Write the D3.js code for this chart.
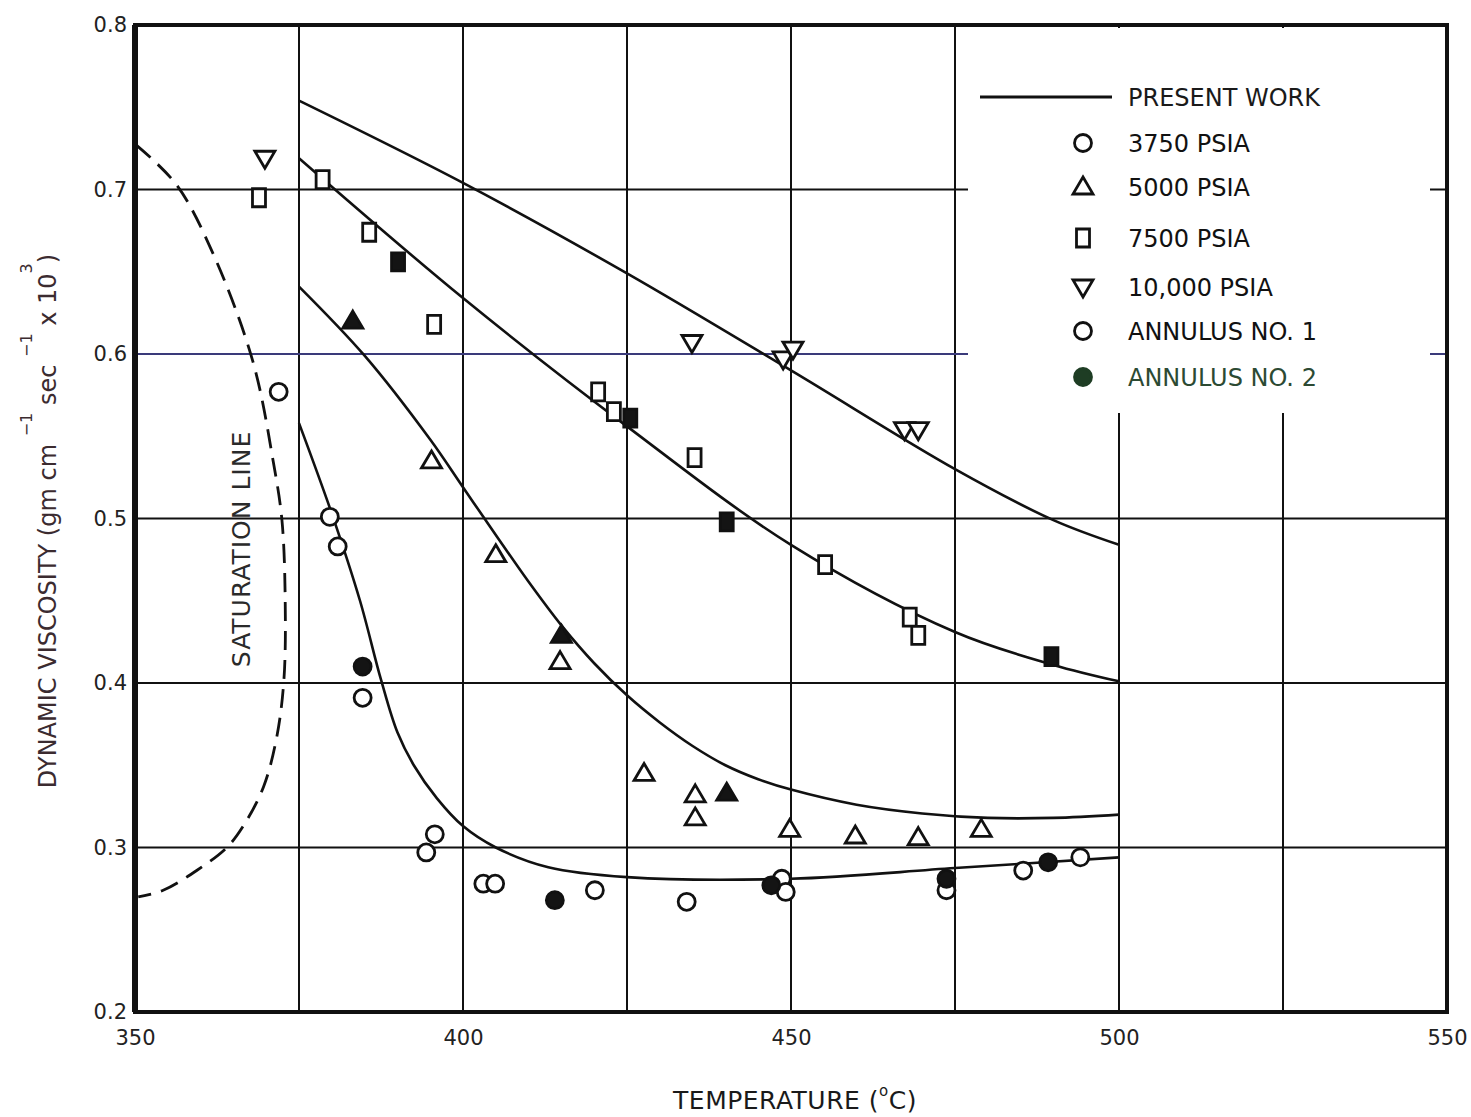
<!DOCTYPE html>
<html>
<head>
<meta charset="utf-8">
<script src="https://cdn.jsdelivr.net/npm/d3@7"></script>
<style>
  body { margin: 0; background: #fff; }
  text { font-family: "DejaVu Sans", sans-serif; }
</style>
</head>
<body>
<div id="chart"></div>
<script>
// viscosity of water vs temperature

var tempTicks = [350, 400, 450, 500, 550];
var tempGrid = [375, 400, 425, 450, 475, 500, 525];
var viscTicks = [0.2, 0.3, 0.4, 0.5, 0.6, 0.7, 0.8];
var viscGrid = [0.3, 0.4, 0.5, 0.6, 0.7];

// present work curves [temp, visc]
var curve10000 = [[375, 0.754], [400, 0.704], [425, 0.649], [450, 0.590], [475, 0.530], [490, 0.499], [500, 0.484]];
var curve7500 = [[375, 0.719], [400, 0.634], [425, 0.556], [450, 0.484], [475, 0.431], [490, 0.411], [500, 0.401]];
var curve5000 = [[375, 0.641], [385, 0.599], [395, 0.548], [400, 0.519], [405, 0.490], [410, 0.4615], [415, 0.435],
                 [420, 0.412], [425, 0.3925], [430, 0.376], [435, 0.3617], [440, 0.350], [445, 0.3415], [450, 0.3352],
                 [460, 0.326], [470, 0.3207], [480, 0.318], [490, 0.318], [500, 0.320]];
var curve3750 = [[375, 0.558], [380, 0.503], [384.3, 0.450], [387.5, 0.402], [390, 0.370], [392.5, 0.350], [396, 0.330],
                 [400, 0.313], [405, 0.300], [413, 0.288], [425, 0.282], [450, 0.281], [475, 0.2875], [500, 0.294]];

// saturation line, dashed
var saturation = [[350.2, 0.727], [356.3, 0.703], [361.9, 0.661], [368, 0.595], [371.1, 0.534], [372.4, 0.499],
                  [372.9, 0.449], [372.7, 0.402], [371.6, 0.367], [369.6, 0.337], [366.5, 0.313], [364, 0.300],
                  [359.4, 0.286], [354.3, 0.274], [350.5, 0.270]];

// measured points
var circles3750 = [[371.9, 0.577], [379.7, 0.501], [380.9, 0.483], [384.7, 0.391], [394.4, 0.297], [395.7, 0.308],
                   [403.1, 0.278], [404.9, 0.278], [420.1, 0.274], [434.1, 0.267], [448.6, 0.281], [449.2, 0.273],
                   [473.7, 0.274], [485.4, 0.286], [494.1, 0.294]];
var filledCircles = [[384.7, 0.410], [414.0, 0.268], [447.0, 0.277], [473.7, 0.281], [489.2, 0.291]];
var triangles5000 = [[395.2, 0.535], [405.0, 0.478], [414.8, 0.413], [427.6, 0.345], [435.4, 0.332], [435.4, 0.318],
                     [449.8, 0.311], [459.8, 0.307], [469.4, 0.306], [479.0, 0.311]];
var filledTriangles = [[383.2, 0.620], [415.0, 0.429], [440.2, 0.333]];
var squares7500 = [[368.9, 0.695], [378.6, 0.706], [385.7, 0.674], [395.6, 0.618], [420.6, 0.577], [423.0, 0.565],
                   [435.3, 0.537], [455.2, 0.472], [468.1, 0.440], [469.4, 0.429]];
var filledSquares = [[390.1, 0.656], [425.5, 0.561], [440.2, 0.498], [489.7, 0.416]];
var downTriangles10000 = [[369.8, 0.719], [434.9, 0.607], [448.8, 0.597], [450.3, 0.603], [467.3, 0.554], [469.4, 0.554]];

var legendItems = [
  { label: "3750 PSIA", shape: "circle", fill: "none", color: "#111" },
  { label: "5000 PSIA", shape: "tri", fill: "none", color: "#111" },
  { label: "7500 PSIA", shape: "square", fill: "none", color: "#111" },
  { label: "10,000 PSIA", shape: "down", fill: "none", color: "#111" },
  { label: "ANNULUS NO. 1", shape: "circle", fill: "none", color: "#111" },
  { label: "ANNULUS NO. 2", shape: "circle", fill: "#1e3d24", color: "#2c4a33" }
];

var width = 1471, height = 1117;

var x = d3.scaleLinear().domain([350, 550]).range([135, 1447]);
var y = d3.scaleLinear().domain([0.2, 0.8]).range([1012, 25]);

var svg = d3.select("#chart").append("svg")
  .attr("width", width)
  .attr("height", height);

// grid
svg.selectAll("line.vgrid").data(tempGrid).enter().append("line")
  .attr("class", "vgrid")
  .attr("x1", function(d) { return x(d); }).attr("x2", function(d) { return x(d); })
  .attr("y1", y(0.8)).attr("y2", y(0.2))
  .attr("stroke", "#111").attr("stroke-width", 2);

svg.selectAll("line.hgrid").data(viscGrid).enter().append("line")
  .attr("class", "hgrid")
  .attr("x1", x(350)).attr("x2", x(550))
  .attr("y1", function(d) { return y(d); }).attr("y2", function(d) { return y(d); })
  .attr("stroke", function(d) { return d === 0.6 ? "#3a3a7a" : "#111"; })
  .attr("stroke-width", 2);

// legend area blanks out the grid
svg.append("rect")
  .attr("x", 968).attr("y", y(0.8) + 3)
  .attr("width", 1430 - 968).attr("height", 410 - y(0.8))
  .attr("fill", "#fff");

// axes
var yAxis = d3.axisLeft(y).tickValues(viscTicks).tickSize(0).tickPadding(8)
  .tickFormat(d3.format(".1f"));
var xAxis = d3.axisBottom(x).tickValues(tempTicks).tickSize(0).tickPadding(18)
  .tickFormat(d3.format("d"));

var gy = svg.append("g").attr("transform", "translate(" + x(350) + ",0)").call(yAxis);
var gx = svg.append("g").attr("transform", "translate(0," + y(0.2) + ")").call(xAxis);
[gx, gy].forEach(function(g) {
  g.select(".domain").remove();
  g.selectAll("text").attr("font-size", 21).attr("fill", "#222")
    .attr("font-family", "DejaVu Sans, sans-serif");
});

// frame
svg.append("rect")
  .attr("x", x(350)).attr("y", y(0.8))
  .attr("width", x(550) - x(350)).attr("height", y(0.2) - y(0.8))
  .attr("fill", "none").attr("stroke", "#111").attr("stroke-width", 4);
svg.append("line")
  .attr("x1", x(350)).attr("x2", x(350)).attr("y1", y(0.8)).attr("y2", y(0.2))
  .attr("stroke", "#111").attr("stroke-width", 6);

// curves
var line = d3.line()
  .x(function(d) { return x(d[0]); })
  .y(function(d) { return y(d[1]); })
  .curve(d3.curveCatmullRom.alpha(0.5));

[curve10000, curve7500, curve5000, curve3750].forEach(function(c) {
  svg.append("path").datum(c)
    .attr("d", line)
    .attr("fill", "none").attr("stroke", "#111").attr("stroke-width", 2.6);
});

svg.append("path").datum(saturation)
  .attr("d", line)
  .attr("fill", "none").attr("stroke", "#111").attr("stroke-width", 2.8)
  .attr("stroke-dasharray", "19,10");

svg.append("text")
  .attr("transform", "translate(250,549) rotate(-90)")
  .attr("text-anchor", "middle")
  .attr("font-size", 25).attr("letter-spacing", 1).attr("fill", "#2a2a2a")
  .text("SATURATION LINE");

// markers
function shapePath(shape) {
  if (shape === "tri") return "M0,-10L10,7L-10,7Z";
  if (shape === "down") return "M0,10L10,-7L-10,-7Z";
  if (shape === "square") return "M-6.5,-9H6.5V9H-6.5Z";
  return d3.symbol().type(d3.symbolCircle).size(Math.PI * 8.5 * 8.5)();
}

function drawPoints(data, shape, filled) {
  svg.append("g").selectAll("path").data(data).enter().append("path")
    .attr("transform", function(d) { return "translate(" + x(d[0]) + "," + y(d[1]) + ")"; })
    .attr("d", shapePath(shape))
    .attr("fill", filled ? "#141414" : "#fff")
    .attr("stroke", "#111")
    .attr("stroke-width", 2.8)
    .attr("stroke-linejoin", "miter");
}

drawPoints(circles3750, "circle", false);
drawPoints(triangles5000, "tri", false);
drawPoints(squares7500, "square", false);
drawPoints(downTriangles10000, "down", false);
drawPoints(filledCircles, "circle", true);
drawPoints(filledTriangles, "tri", true);
drawPoints(filledSquares, "square", true);

// legend
var legend = svg.append("g");
legend.append("line")
  .attr("x1", 980).attr("x2", 1112).attr("y1", 97).attr("y2", 97)
  .attr("stroke", "#111").attr("stroke-width", 3);
legend.append("text")
  .attr("x", 1128).attr("y", 106)
  .attr("font-size", 24).attr("fill", "#1a1a1a")
  .text("PRESENT WORK");

var rowsY = [143, 187, 238, 287, 331, 377];
legendItems.forEach(function(it, i) {
  legend.append("path")
    .attr("transform", "translate(1083," + rowsY[i] + ")")
    .attr("d", shapePath(it.shape))
    .attr("fill", it.fill === "none" ? "#fff" : it.fill)
    .attr("stroke", it.fill === "none" ? "#111" : it.fill)
    .attr("stroke-width", 2.8);
  legend.append("text")
    .attr("x", 1128).attr("y", rowsY[i] + 9)
    .attr("font-size", 24).attr("fill", it.color)
    .text(it.label);
});

// axis titles
var xt = svg.append("text")
  .attr("x", 795).attr("y", 1109)
  .attr("text-anchor", "middle")
  .attr("font-size", 25).attr("letter-spacing", 0.5).attr("fill", "#1a1a1a");
xt.append("tspan").text("TEMPERATURE (");
xt.append("tspan").attr("font-size", 15).attr("dy", -13).text("o");
xt.append("tspan").attr("dy", 13).text("C)");

var yt = svg.append("text")
  .attr("transform", "translate(56,521) rotate(-90)")
  .attr("text-anchor", "middle")
  .attr("font-size", 24).attr("fill", "#3b2b30");
yt.append("tspan").text("DYNAMIC VISCOSITY (gm cm ");
yt.append("tspan").attr("font-size", 16).attr("dy", -24).text("\u22121");
yt.append("tspan").attr("dy", 24).text("   sec ");
yt.append("tspan").attr("font-size", 16).attr("dy", -24).text("\u22121");
yt.append("tspan").attr("dy", 24).text("   x 10");
yt.append("tspan").attr("font-size", 16).attr("dy", -24).text("3");
yt.append("tspan").attr("dy", 24).text(")");
</script>
</body>
</html>
